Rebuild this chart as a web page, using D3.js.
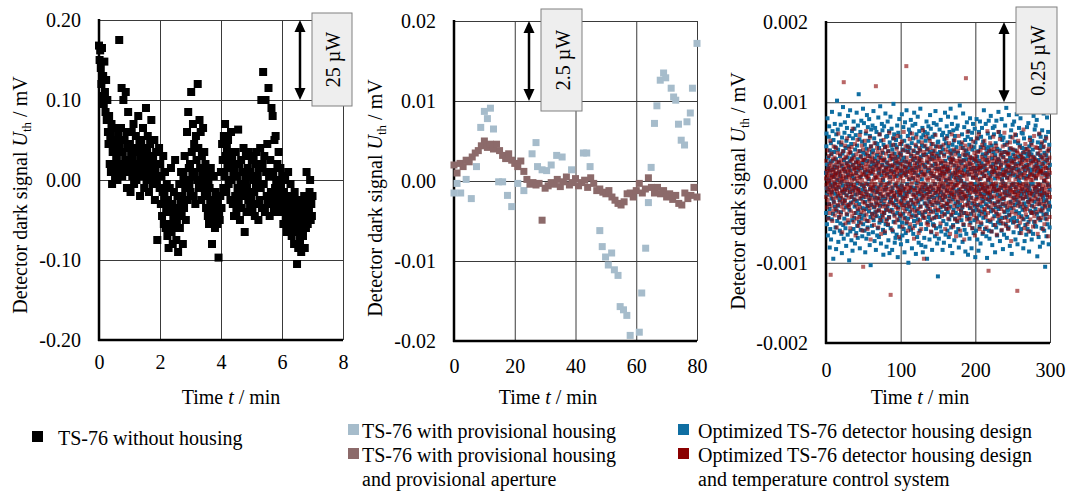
<!DOCTYPE html>
<html>
<head>
<meta charset="utf-8">
<style>
  body { margin: 0; background: #fff; }
  svg text { font-family: "Liberation Serif", "Times New Roman", serif; font-size: 20px; fill: #000; }
</style>
<script src="https://cdn.jsdelivr.net/npm/d3@7"></script>
</head>
<body>
<div id="container"></div>
<script>

// ---- data ----

// panel 1: TS-76 without housing, values in 0.001 mV, sampled evenly over 7 min
const p1Duration = 7;
const p1Values = [
  168,150,162,140,120,165,105,130,95,148,110,85,125,75,100,
  60,45,80,20,55,10,70,-5,35,50,15,65,5,40,25,
  30,0,55,10,175,45,20,65,115,5,35,100,15,50,25,110,60,-10,40,85,20,
  10,45,-15,30,60,5,25,70,-5,40,15,55,0,35,20,80,10,45,-20,25,50,5,30,65,15,-10,40,20,90,0,35,55,10,-15,25,45,5,75,20,-5,30,10,50,-25,15,35,0,-75,20,5,40,
  -10,20,-30,5,-45,-15,30,-55,-20,10,-60,-35,-5,-70,-25,-85,-40,-10,-55,15,-65,-30,-80,-45,-15,-60,25,-35,-75,-50,-20,-90,-40,-5,-60,-30,10,-45,-20,-80,5,-35,30,-10,-50,0,60,-25,85,15,-5,
  20,-15,110,35,5,70,-20,45,10,-30,55,25,0,120,40,-10,75,15,60,-25,30,5,65,-5,35,
  -15,20,-35,10,-20,-45,0,-55,-10,-30,15,-40,-80,-25,-50,5,-35,-60,-15,-45,-20,-55,-30,-97,-40,-50,
  -20,10,-35,45,25,-10,55,5,70,30,-15,40,15,50,-5,20,35,-25,60,0,25,-30,10,-45,15,
  -20,35,-40,5,-10,63,-30,20,-50,-5,25,-35,10,-20,40,-15,-65,0,30,-40,-10,15,-25,35,5,-30,
  10,-20,25,-40,0,30,-15,-45,20,-5,35,-30,5,-50,15,-25,40,-10,100,-35,20,135,-5,30,-40,
  100,10,-20,45,-30,115,5,-45,25,-15,90,-25,80,10,-35,50,-10,55,0,-40,20,-20,35,-5,-30,15,
  -10,-40,5,-25,-55,-15,-35,0,-50,-20,-65,-30,10,-45,-25,-60,-5,-40,-70,-20,-55,-35,-80,
  -15,-50,-30,-65,-105,-45,-85,-25,-60,-75,-40,-90,-55,-30,-70,-50,-20,-85,-45,-60,10,-35,
  -55,-25,-40,-15,0,-50,-30,-45,-20
];

// panel 2: provisional housing (time in min, value in 0.001 mV)
const p2HousingT = [0,1,2.2,4,5.7,7.4,8.8,10,11,12,13,14.7,16,17.6,19,21,23,25.7,27,27.5,29,30.5,32,33.8,35.6,38.7,42.6,43.7,44.8,48,
  48.8,49.9,50.8,51.9,52.8,54,54.7,55.8,56.9,58,61,61.8,63.1,64,64.9,66,66.8,67.9,69,69.7,71.5,72.3,73,73.9,74.8,75.9,76.7,77.8,78.5,80];
const p2HousingV = [-1.5,-0.3,-1.5,0.2,-2.2,1.8,6.7,8.7,7.8,9.1,6.5,-0.1,-0.1,-1.8,-3.2,-0.3,-1.2,3.4,4.8,1.8,1.4,1.3,2.0,3.2,3.0,1.4,3.5,3.5,1.8,-6.2,
  -8.2,-9.5,-10.5,-9.0,-11.1,-11.8,-15.7,-16.1,-16.8,-19.3,-18.9,-14.0,-8.4,-2.7,1.7,7.2,9.4,12.6,13.5,12.9,11.6,10.5,10.1,7.1,5.1,4.5,7.4,8.5,11.6,17.2];
// provisional housing + aperture, one value per minute (0.001 mV)
const p2ApertureV = [2.0,1.0,2.2,1.8,2.6,2.4,3.0,3.5,3.8,4.4,5.0,4.2,4.6,4.0,4.6,3.8,3.2,2.8,3.4,2.6,
  2.2,1.8,2.5,1.2,0.2,-0.4,-0.2,-0.5,-0.3,-4.9,-0.9,-0.6,-0.2,-0.4,0.2,-0.7,-0.1,0.5,-0.5,-0.2,
  0.3,-0.6,-0.2,0.1,-0.8,0.4,-0.3,-1.2,-1.0,-1.4,-1.6,-1.2,-2.0,-2.4,-2.8,-3.0,-2.6,-1.6,-1.5,-2.0,
  -1.2,-0.3,-1.5,-1.0,0.4,-0.8,-1.5,-0.8,-1.6,-1.2,-2.0,-1.6,-2.3,-1.8,-2.8,-3.0,-1.5,-2.2,-1.8,-0.8,-2.0];

// panel 3: optimized housing, values in 0.00001 mV, sampled evenly over 300 min
const p3Duration = 300;
const p3Optimized = [
  12,-38,45,61,-7,-52,23,-15,80,4,-66,31,18,-44,-9,57,-27,70,2,-33,-81,40,15,-58,26,
  -3,49,-71,35,9,-20,-46,88,-12,27,64,-5,-39,16,-95,53,-24,7,38,-62,20,-1,73,-30,-14,
  44,-56,11,29,-83,60,-8,-35,19,102,-48,3,-17,66,-29,41,-74,25,-6,50,-43,13,-22,85,-60,
  33,8,-51,-19,72,-37,47,-64,1,21,-88,56,-11,36,-26,-4,94,-53,17,39,-70,28,-13,-45,62,
  -22,75,-9,14,-57,43,-31,6,-79,52,24,-16,68,-40,-2,31,-65,10,83,-28,45,-50,-7,19,-97,
  58,-34,26,-12,90,-61,15,37,-25,-3,48,-72,30,-18,64,-47,8,-85,22,55,-10,34,-58,76,-21,
  5,-44,67,-30,18,-76,41,-6,-15,59,-38,25,-63,12,87,-23,46,-54,-1,29,-69,71,-35,16,-8,
  110,-49,21,-27,54,-13,-82,39,-40,63,7,-59,32,-20,77,-45,18,-3,51,-67,24,-32,-9,92,-52,
  37,-18,-5,74,-41,28,-60,13,47,-24,-87,35,-11,61,-33,9,-70,42,-15,84,-48,27,-2,-56,69,
  -29,14,52,-64,4,-36,79,-21,33,-78,58,-8,20,-43,-103,45,-16,66,-28,11,38,-54,25,-39,71,
  16,-62,40,-10,89,-47,23,-31,55,-5,-73,30,-19,68,-37,6,49,-84,21,-26,63,-12,-42,34,-66,
  48,-7,-57,26,-20,81,-35,12,-68,43,17,-50,60,-14,-29,95,-44,31,-3,-76,52,-23,9,-48,73,
  -41,22,65,-18,37,-59,3,-90,47,-27,14,70,-38,28,-9,-63,44,-20,86,-52,19,-34,57,-6,-80,
  25,-46,11,58,-30,76,-15,-53,39,-72,21,-1,64,-43,33,-88,50,-24,7,-36,82,-57,15,-19,46,
  -11,67,-34,20,-84,41,-7,29,-61,55,-26,98,-49,13,-17,60,-40,36,-75,24,-3,47,-69,30,-22,
  53,-28,8,-65,44,-12,71,-38,19,-93,32,-5,62,-31,-47,24,-16,79,-55,10,-42,35,-70,57,-9,
  36,-77,15,48,-23,-4,85,-50,27,-66,41,-18,12,-39,69,-8,-58,31,-28,52,-87,20,-13,75,-44,
  -17,40,-63,9,26,-51,90,-33,14,-2,-73,46,-25,58,-45,18,-100,38,-12,66,-30,4,-56,43,23,
  62,-36,21,-10,78,-59,33,-22,-6,49,-82,16,-41,71,-27,5,55,-64,28,-15,39,-48,87,-31,12,
  -54,30,-7,73,-42,18,-89,45,-20,60,-1,-35,24,-68,37,-13,82,-46,9,-25,51,-75,20,-38,64,
  27,-15,-60,41,-30,92,-9,32,-52,13,-78,56,-21,4,46,-40,68,-17,-87,34,-6,59,-44,22,-11,
  45,-69,10,-26,63,-37,19,-80,52,-3,35,-58,-14,76,-29,42,-95,25,-8,61,-49,14,-33,70,-20,
  -43,16,55,-24,-71,38,-12,84,-47,29,-5,67,-36,11,-62,48,-18,33,-84,21,-28,57,-9,-52,39,
  8,-53,74,-19,31,-44,60,-2,-67,23,-35,89,-13,45,-57,17,-25,72,-40,6,-76,36,-16,50,-117,
  -26,51,-8,33,-70,17,4,-43,66,-19,38,-55,9,-31,78,-12,24,-61,45,-4,-37,59,-22,13,-84,
  41,-15,62,-48,20,-6,-75,35,-29,54,11,-40,87,-18,27,-65,3,49,-33,16,-52,70,-10,-27,58,
  -60,19,-37,82,-2,45,-23,-68,31,14,-46,63,-17,5,-79,40,-30,92,-13,25,-56,8,36,-41,73,
  10,-88,47,-21,29,-53,65,-7,-34,52,-16,39,-72,21,-3,58,-45,12,-26,81,-38,6,-62,44,-11,
  67,-30,15,-49,3,71,-24,37,-58,18,-9,-81,50,-14,33,-40,96,-28,7,-66,26,-19,48,-35,2,
  -47,24,-12,60,-31,9,-74,43,-20,86,-5,28,-53,15,-38,69,-1,-59,34,-17,53,-86,19,-8,40,
  29,-64,38,-3,75,-42,13,-27,57,-11,-90,36,-22,64,-45,10,-16,47,-70,23,-32,80,-6,-50,31,
  -19,54,-39,17,-82,30,-8,62,-26,41,-57,6,73,-35,18,-63,44,-10,28,-47,-2,67,-29,14,-93,
  50,-12,26,-60,9,-34,79,-18,-45,32,-71,21,-4,55,-28,39,-85,16,-9,63,-41,27,-55,4,76,
  -36,18,-76,44,-14,57,-3,-52,24,-30,68,-20,11,-64,35,-7,51,-44,19,-23,90,-37,8,-15,47,
  21,-58,33,-9,-40,73,-27,15,-67,42,-13,28,-94,37,-5,-48,61,-21,3,44,-31,77,-60,12,-18,
  -70,39,-15,56,-24,8,-49,83,-36,20,-2,-61,46,-19,30,-78,14,-34,68,-11,23,-53,38,-6,60,
  13,-42,70,-26,5,-87,34,-10,49,-31,18,-56,77,-4,-39,25,-66,42,-15,10,-50,29,-24,88,-33,
  -9,63,-46,27,-17,40,-73,11,-30,58,-51,22,-7,35,-60,79,-20,4,-44,53,-27,16,-83,32,-1,
  56,-21,9,-65,38,-12,47,-37,-4,71,-29,14,-52,26,-16,93,-43,20,-69,6,-35,50,-11,37,-57,
  -34,27,-56,12,84,-40,19,-15,42,-79,31,-7,57,-24,10,-47,65,-32,14,-89,41,-3,26,-45,72,
  18,-50,35,-2,-62,29,-19,76,-44,9,-28,51,-12,40,-71,23,-6,59,-36,17,-21,85,-48,7,-26,
  -77,32,-11,49,-25,16,-54,3,68,-38,24,-63,12,-1,46,-30,80,-17,33,-58,11,-42,62,-14,28,
  43,-9,-34,61,-20,37,-82,19,-46,6,55,-26,30,-73,15,-11,42,-53,99,-30,21,-4,-65,36,-18,
  -13,69,-43,22,-58,8,33,-24,74,-49,17,-6,-86,45,-21,38,-10,56,-35,12,-61,27,-2,49,-38,
  35,-71,16,-29,52,-14,-2,41,-64,27,-37,83,-16,9,-49,31,-24,66,-8,-54,20,-33,71,-12,5,
  -55,23,-6,78,-39,14,-92,36,-21,50,-10,-44,28,-68,19,-3,60,-27,43,-15,-80,34,-47,15,57,
  20,-36,48,-13,-57,31,-8,65,-32,11,-75,44,-18,24,-40,86,-23,2,-60,37,-14,52,-29,-105,26,
  -45,12,57,-22,34,-67,7,-39,81,-16,29,-52,18,-3,63,-34,10,-77,40,-25,47,-9,-56,22,-30
];
// optimized housing + temperature control, values in 0.00001 mV, same time span
const p3Controlled = [
  5,-18,27,-3,14,-31,9,-8,40,-22,2,17,-45,11,-12,33,-1,-27,21,6,-38,15,-6,52,-16,
  -115,24,-10,3,-29,36,-14,8,19,-48,13,-4,29,-20,7,-35,45,-9,16,-25,1,31,-41,10,-2,
  22,-7,-33,12,43,-19,5,-56,26,-11,18,-3,37,-28,9,-15,61,-37,14,-6,25,-44,3,20,-13,
  -24,35,-1,11,-40,28,-17,6,50,-30,15,-9,-62,23,4,-21,39,-12,8,-34,125,17,-26,2,30,
  -8,46,-23,13,-51,19,-4,32,-16,7,-39,24,-10,55,-29,1,14,-47,21,-5,36,-19,9,-31,42,
  15,-27,6,-12,38,-57,20,-2,27,-36,11,-18,44,-8,3,-42,29,-14,67,-25,10,-5,22,-49,17,
  -3,31,-38,16,-10,48,-21,4,-66,25,12,-28,35,-7,19,-45,8,-15,53,-33,2,26,-11,-54,39,
  18,-9,24,-43,6,-20,59,-31,14,-2,33,-50,21,-13,9,-37,46,-17,3,28,-60,11,-24,41,-105,
  -14,28,-4,19,-35,10,-26,52,-8,15,-46,30,-1,23,-18,64,-40,7,-12,37,-29,16,-58,5,20,
  33,-16,8,-48,25,-3,41,-23,12,-32,56,-9,-19,29,-71,14,-6,45,-27,2,18,-39,31,-11,-3,
  26,-44,13,-7,36,-21,4,-53,20,-15,49,-30,9,-2,27,-41,16,120,-24,6,-36,22,-10,43,-19,
  -28,7,38,-12,17,-56,24,-5,31,-34,11,-20,60,-26,3,-47,19,-8,35,-15,-64,28,-1,14,-37,
  40,-11,21,-30,5,-43,27,-17,53,-6,12,-38,30,-23,8,-61,44,-3,16,-29,-9,36,-48,18,-14,
  9,-34,45,-2,24,-19,-52,13,-8,39,-27,17,-44,6,62,-15,28,-35,1,21,-12,-140,33,-22,11,
  -5,30,-25,14,-59,36,-10,22,-37,4,47,-18,9,-28,55,-13,20,-42,7,-16,32,-50,15,-4,27,
  -31,16,-1,42,-20,11,-46,25,-7,58,-33,3,18,-24,37,-12,-68,29,-9,14,-39,48,-15,6,-26,
  23,-13,34,-41,8,-4,51,-28,15,-55,21,-10,40,-19,2,-32,63,-23,10,-45,26,-6,17,-36,12,
  -20,45,-8,19,-29,145,-14,31,-49,7,-17,38,-3,25,-60,13,-26,44,-11,4,-39,22,-7,54,-30,
  14,-52,27,-6,35,-22,9,-43,18,-1,61,-34,12,-15,29,-57,6,40,-25,16,-9,-70,33,-18,21,
  -10,24,-36,3,47,-27,13,-16,56,-41,8,-4,31,-23,19,-50,37,-12,2,-33,26,-63,15,-7,43,
  30,-21,7,-47,22,-11,39,-2,-30,17,-58,28,-14,50,-6,11,-37,24,-19,65,-42,9,-1,34,-95,
  -16,38,-9,14,-44,20,-3,46,-26,10,-35,57,-20,5,-51,27,-8,32,-15,41,-29,3,-53,18,-12,
  25,-6,-39,31,-18,6,52,-33,12,-24,43,-10,-61,21,-4,36,-27,15,-45,8,29,-16,48,-37,2,
  -7,35,-22,11,-54,27,-13,40,-2,18,-31,59,-25,7,-43,23,-10,33,-64,14,-20,45,-5,28,-34,
  -12,21,4,-35,16,-7,30,-24,9,-2,44,-16,12,-51,25,-10,3,37,-28,18,-5,-42,14,27,-19,
  8,-30,19,-1,47,-22,11,-14,33,-39,6,24,-9,-58,20,-17,41,-4,13,-26,55,-33,2,17,-11,
  -27,38,-6,15,-45,23,-13,5,-32,49,-20,10,-3,29,-64,18,-8,36,-24,1,-40,26,-15,60,-9,
  31,-14,-2,22,-37,12,-55,28,-6,41,-18,7,-29,53,-12,16,-46,3,35,-21,11,-67,24,-4,19,
  -3,27,-48,9,-16,39,-25,14,-1,-33,58,-11,21,-44,6,30,-19,13,-60,26,-8,43,-14,2,-36,
  16,-41,12,-23,50,-5,-30,20,-12,35,-52,8,-18,27,-2,-71,40,-15,11,-28,46,-6,21,-38,130,
  -20,9,34,-17,4,-46,24,-10,63,-29,15,-3,-39,19,-25,42,-8,28,-53,10,-13,32,-45,17,-1,
  24,-7,-31,45,-19,13,-2,-57,30,-12,22,-36,6,51,-23,9,-41,18,-5,37,-27,14,-66,29,-10,
  -9,33,-21,6,-44,27,-14,55,-5,18,-30,11,-49,3,38,-20,16,-35,60,-11,24,-2,-58,20,-15,
  12,-26,40,-8,19,-50,5,-17,32,-39,-2,47,-24,13,-6,29,-62,21,-10,43,-18,8,-33,52,-4,
  -34,15,-11,28,-1,-43,36,-20,9,-56,23,-7,17,-29,64,-14,4,-38,25,-12,-110,31,-5,39,-22,
  6,-47,26,-13,49,-9,20,-31,3,-18,41,-61,13,-4,34,-26,10,-45,19,-2,57,-35,16,-8,27,
  -17,42,-5,-28,14,-53,31,-11,22,-1,-37,46,-19,8,-65,26,-9,39,-24,12,-42,5,63,-30,18,
  29,-10,17,-40,7,-22,54,-15,-6,34,-48,20,-3,25,-33,11,-59,37,-14,2,-27,45,-20,9,-51,
  -4,31,-36,13,-19,62,-8,24,-44,10,-13,-2,38,-26,16,-54,28,-7,47,-31,6,-16,35,-48,21,
  14,-58,22,-5,36,-25,3,-41,19,-11,50,-29,8,-17,43,-9,-73,27,-3,15,-37,24,-12,56,-20,
  -26,11,-1,41,-32,18,-12,-49,26,-6,33,-22,60,-15,4,-39,21,-8,30,-55,13,-18,39,-2,-135,
  37,-16,8,-29,52,-13,21,-3,-43,15,-24,44,-7,28,-50,6,-19,35,-11,23,-63,10,-4,32,-27,
  -8,25,-45,17,-2,30,-20,66,-31,9,-14,38,-57,20,-6,12,-35,48,-18,4,-40,27,-10,-1,42,
  19,-33,5,-52,28,-9,15,-24,40,-4,-61,22,-13,35,-28,7,53,-16,10,-46,31,-21,3,-37,24,
  -14,47,-23,10,-38,3,26,-11,-55,32,-5,19,-30,14,58,-42,8,-20,29,-7,-49,16,44,-17,6,
  27,-5,-37,21,-12,43,-27,9,-64,18,-2,36,-22,11,-45,25,-9,61,-34,13,-15,-3,40,-26,15,
  -21,14,32,-44,6,-16,50,-8,23,-35,12,-58,29,-4,17,-27,45,-13,2,-52,34,-10,20,-31,9,
  3,-40,18,-6,55,-24,11,-46,28,-15,-1,39,-19,7,-67,24,-12,42,-29,16,-5,31,-43,12,-18
];

// tick labels
const p1XTicks = [0, 2, 4, 6, 8];
const p1YTicks = [0.2, 0.1, 0, -0.1, -0.2];
const p1YLabels = ['0.20', '0.10', '0.00', '-0.10', '-0.20'];
const p2XTicks = [0, 20, 40, 60, 80];
const p2YTicks = [0.02, 0.01, 0, -0.01, -0.02];
const p2YLabels = ['0.02', '0.01', '0.00', '-0.01', '-0.02'];
const p3XTicks = [0, 100, 200, 300];
const p3YTicks = [0.002, 0.001, 0, -0.001, -0.002];
const p3YLabels = ['0.002', '0.001', '0.000', '-0.001', '-0.002'];

// ---- drawing ----
const SERIF = '"Liberation Serif", "Times New Roman", serif';
const svg = d3.select('#container').append('svg')
    .attr('width', 1070)
    .attr('height', 497)
    .style('font-family', SERIF);

const GRID = '#3a3a3a';

function drawPanel(c) {
    const x = d3.scaleLinear().domain([c.xTicks[0], c.xTicks[c.xTicks.length - 1]]).range([c.left, c.right]);
    const y = d3.scaleLinear().domain([c.yTicks[c.yTicks.length - 1], c.yTicks[0]]).range([c.bottom, c.top]);
    const h = c.bottom - c.top, w = c.right - c.left;

    const gx = svg.append('g')
        .attr('transform', `translate(0,${c.bottom})`)
        .call(d3.axisBottom(x).tickValues(c.xTicks).tickFormat(d3.format('d'))
            .tickSize(-h).tickPadding(c.xPad));
    const gy = svg.append('g')
        .attr('transform', `translate(${c.left},0)`)
        .call(d3.axisLeft(y).tickValues(c.yTicks).tickFormat((d, i) => c.yLabels[i])
            .tickSize(-w).tickPadding(18));
    [gx, gy].forEach(g => {
        g.attr('font-family', null).attr('font-size', null);
        g.select('.domain').remove();
        g.selectAll('.tick line').attr('stroke', GRID).attr('stroke-width', 1);
        g.selectAll('.tick text').style('font-family', SERIF).style('font-size', '20px').attr('fill', '#000');
    });

    // thick left and bottom axes
    svg.append('line').attr('x1', c.left).attr('x2', c.left).attr('y1', c.top - 1).attr('y2', c.bottom + 1)
        .attr('stroke', '#000').attr('stroke-width', 2.5);
    svg.append('line').attr('x1', c.left - 1).attr('x2', c.right).attr('y1', c.bottom).attr('y2', c.bottom)
        .attr('stroke', '#000').attr('stroke-width', 2.5);

    // axis titles
    const xt = svg.append('text').attr('x', c.xTitleX).attr('y', 404).attr('text-anchor', 'middle');
    xt.append('tspan').text('Time ');
    xt.append('tspan').attr('font-style', 'italic').text('t');
    xt.append('tspan').text(' / min');

    const yt = svg.append('text')
        .attr('transform', `translate(${c.yTitleX},${c.yTitleY}) rotate(-90)`)
        .attr('text-anchor', 'middle');
    yt.append('tspan').text('Detector dark signal ');
    yt.append('tspan').attr('font-style', 'italic').text('U');
    yt.append('tspan').style('font-size', '13px').attr('dy', 4).text('th');
    yt.append('tspan').attr('dy', -4).text(' / mV');

    return { x, y };
}

function drawPoints(sc, data, size, color, opacity) {
    svg.append('g').selectAll('rect').data(data).enter().append('rect')
        .attr('x', d => sc.x(d.t) - size / 2)
        .attr('y', d => sc.y(d.v) - size / 2)
        .attr('width', size).attr('height', size)
        .attr('fill', color)
        .attr('fill-opacity', opacity);
}

function drawBox(sc, b) {
    // double arrow spanning one grid step, plus label box
    const ax = b.x - 12;
    const yTop = sc.y(b.from), yBot = sc.y(b.to);
    svg.append('line').attr('x1', ax).attr('x2', ax).attr('y1', yTop + 10).attr('y2', yBot - 10)
        .attr('stroke', '#000').attr('stroke-width', 2.5);
    svg.append('path').attr('d', `M${ax},${yTop} l-5.5,12 l11,0 z`).attr('fill', '#000');
    svg.append('path').attr('d', `M${ax},${yBot} l-5.5,-12 l11,0 z`).attr('fill', '#000');
    svg.append('rect').attr('x', b.x).attr('y', b.y).attr('width', b.w).attr('height', b.h)
        .attr('fill', '#eeeeee').attr('stroke', '#808080').attr('stroke-width', 1);
    svg.append('text')
        .attr('transform', `translate(${b.x + b.w / 2 + 1},${b.y + b.h / 2}) rotate(-90)`)
        .attr('text-anchor', 'middle').attr('dy', '0.35em')
        .text(b.label);
}

// panel 1
const s1 = drawPanel({ left: 99, right: 343, top: 20, bottom: 340, xTicks: p1XTicks, yTicks: p1YTicks,
    yLabels: p1YLabels, xPad: 15, xTitleX: 231, yTitleX: 27, yTitleY: 195 });
drawPoints(s1, p1Values.map((v, i) => ({ t: i * p1Duration / (p1Values.length - 1), v: v / 1000 })), 8, '#000', 1);
drawBox(s1, { x: 312, y: 13, w: 40, h: 93, from: 0.2, to: 0.1, label: '25 µW' });

// panel 2
const s2 = drawPanel({ left: 454, right: 697, top: 21, bottom: 341, xTicks: p2XTicks, yTicks: p2YTicks,
    yLabels: p2YLabels, xPad: 18, xTitleX: 548, yTitleX: 382, yTitleY: 198 });
drawPoints(s2, p2HousingT.map((t, i) => ({ t, v: p2HousingV[i] / 1000 })), 7, '#a6bccb', 1);
drawPoints(s2, p2ApertureV.map((v, i) => ({ t: i, v: v / 1000 })), 7, '#8c6a6a', 1);
drawBox(s2, { x: 541, y: 9, w: 41, h: 102, from: 0.02, to: 0.01, label: '2.5 µW' });

// panel 3
const s3 = drawPanel({ left: 826, right: 1050, top: 22, bottom: 343, xTicks: p3XTicks, yTicks: p3YTicks,
    yLabels: p3YLabels, xPad: 20, xTitleX: 920, yTitleX: 745, yTitleY: 191 });
drawPoints(s3, p3Optimized.map((v, i) => ({ t: i * p3Duration / (p3Optimized.length - 1), v: v / 100000 })), 4, '#0f6ea2', 1);
drawPoints(s3, p3Controlled.map((v, i) => ({ t: i * p3Duration / (p3Controlled.length - 1), v: v / 100000 })), 4, '#8b0000', 0.6);
drawBox(s3, { x: 1016, y: 7, w: 41, h: 107, from: 0.002, to: 0.001, label: '0.25 µW' });

// legends
const legends = [
    { x: 32, textX: 58, y: 445, items: [{ color: '#000', lines: ['TS-76 without housing'] }] },
    { x: 348, textX: 362, y: 438, items: [
        { color: '#a6bccb', lines: ['TS-76 with provisional housing'] },
        { color: '#8c6a6a', lines: ['TS-76 with provisional housing', 'and provisional aperture'] }] },
    { x: 678, textX: 698, y: 438, items: [
        { color: '#0f6ea2', lines: ['Optimized TS-76 detector housing design'] },
        { color: '#8b0000', lines: ['Optimized TS-76 detector housing design', 'and temperature control system'] }] }
];
legends.forEach(L => {
    let line = 0;
    L.items.forEach(it => {
        const base = L.y + line * 24;
        svg.append('rect').attr('x', L.x).attr('y', base - 14).attr('width', 11).attr('height', 11).attr('fill', it.color);
        it.lines.forEach((s, k) => {
            svg.append('text').attr('x', L.textX).attr('y', L.y + (line + k) * 24).text(s);
        });
        line += it.lines.length;
    });
});

</script>
</body>
</html>
